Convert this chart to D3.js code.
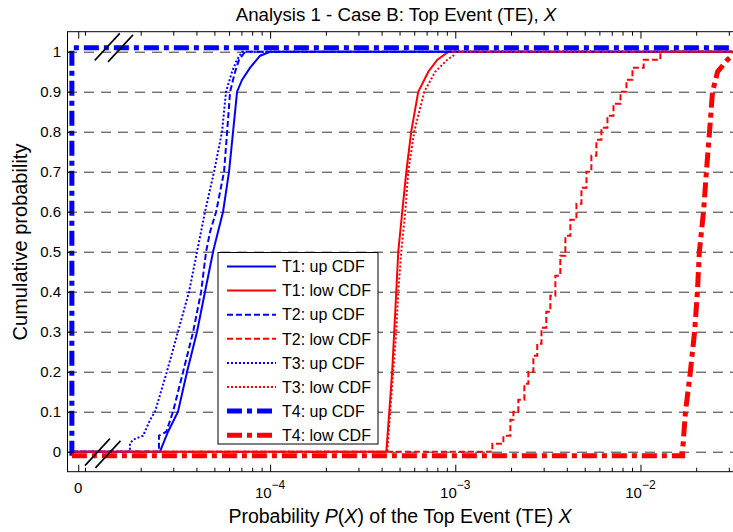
<!DOCTYPE html>
<html><head><meta charset="utf-8">
<script src="https://cdn.jsdelivr.net/npm/d3@7"></script>
<style>
body{margin:0;background:#fff;}
svg{display:block;font-family:"Liberation Sans",Arial,Helvetica,sans-serif;}
</style>
</head><body>
<svg id="chart" width="733" height="532"></svg>
<script>
// ---------- data ----------
const ZERO = 8.5e-6;   // stand-in position for x = 0 on the log axis
const X_END = 0.05;    // beyond the right edge (clipped)

const seriesNames = ["T1: up CDF","T1: low CDF","T2: up CDF","T2: low CDF","T3: up CDF","T3: low CDF","T4: up CDF","T4: low CDF"];
const seriesColors = ["#0000ff","#ff0000","#0000ff","#ff0000","#0000ff","#ff0000","#0000ff","#ff0000"];
const seriesStyles = ["solid","solid","dashed","dashed","dotted","dotted","dashdot","dashdot"];

const t1UpX = [ZERO, 2.54e-5, 2.81e-5, 3.18e-5, 3.56e-5, 4.03e-5, 4.45e-5, 4.68e-5, 4.92e-5, 5.04e-5, 5.57e-5, 6.0e-5, 6.31e-5, 6.63e-5, 7.06e-5, 7.8e-5, 8.83e-5, 1.0e-4, X_END];
const t1UpY = [0, 0, 0.05, 0.1, 0.2, 0.3, 0.4, 0.45, 0.5, 0.52, 0.6, 0.7, 0.8, 0.9, 0.93, 0.96, 0.99, 1, 1];

const t1LowX = [ZERO, 4.24e-4, 4.40e-4, 4.56e-4, 4.68e-4, 4.80e-4, 4.92e-4, 5.17e-4, 5.44e-4, 5.78e-4, 6.31e-4, 7.15e-4, 8.0e-4, 9.2e-4, X_END];
const t1LowY = [0, 0, 0.1, 0.2, 0.3, 0.4, 0.5, 0.6, 0.7, 0.8, 0.9, 0.95, 0.98, 1, 1];

const t2UpX = [ZERO, 2.51e-5, 2.51e-5, 2.75e-5, 2.99e-5, 3.39e-5, 3.84e-5, 4.24e-5, 4.51e-5, 4.74e-5, 5.11e-5, 5.64e-5, 5.86e-5, 6.08e-5, 6.47e-5, 6.80e-5, 7.33e-5, X_END];
const t2UpY = [0, 0, 0.04, 0.05, 0.1, 0.2, 0.3, 0.4, 0.5, 0.55, 0.6, 0.7, 0.8, 0.9, 0.95, 0.98, 1, 1];

const t2LowX = [ZERO, 1.585e-3, 1.818e-3, 1.983e-3, 2.06e-3, 2.19e-3, 2.36e-3, 2.48e-3, 2.64e-3, 2.77e-3, 2.92e-3, 3.10e-3, 3.26e-3, 3.47e-3, 3.69e-3, 3.93e-3, 4.18e-3, 4.51e-3, 4.80e-3, 5.11e-3, 5.43e-3, 5.78e-3, 6.15e-3, 6.63e-3, 7.15e-3, 7.80e-3, 8.40e-3, 9.05e-3, 1.04e-2, 1.28e-2, X_END];
const t2LowY = [0, 0.02, 0.04, 0.08, 0.10, 0.13, 0.17, 0.20, 0.24, 0.27, 0.31, 0.35, 0.39, 0.44, 0.49, 0.54, 0.58, 0.62, 0.66, 0.70, 0.74, 0.78, 0.81, 0.84, 0.87, 0.90, 0.93, 0.96, 0.98, 1.0, 1.0];

const t3UpX = [ZERO, 1.75e-5, 1.75e-5, 1.82e-5, 2.06e-5, 2.25e-5, 2.39e-5, 2.77e-5, 3.18e-5, 3.65e-5, 4.03e-5, 4.45e-5, 4.98e-5, 5.50e-5, 5.78e-5, 6.23e-5, 6.63e-5, 7.06e-5, X_END];
const t3UpY = [0, 0, 0.02, 0.03, 0.04, 0.08, 0.1, 0.2, 0.3, 0.4, 0.5, 0.6, 0.7, 0.8, 0.9, 0.95, 0.98, 1, 1];

const t3LowX = [ZERO, 4.29e-4, 4.45e-4, 4.62e-4, 4.80e-4, 4.92e-4, 5.11e-4, 5.37e-4, 5.57e-4, 6.00e-4, 6.80e-4, 7.80e-4, 9.05e-4, 9.75e-4, 1.0e-3, X_END];
const t3LowY = [0, 0, 0.1, 0.2, 0.3, 0.4, 0.5, 0.6, 0.7, 0.8, 0.9, 0.95, 0.98, 0.99, 1, 1];

const t4UpX = [ZERO, ZERO, X_END];
const t4UpY = [-0.01, 1.01, 1.01];

const t4LowX = [ZERO, 1.687e-2, 1.687e-2, 1.75e-2, 1.86e-2, 1.96e-2, 2.03e-2, 2.08e-2, 2.19e-2, 2.27e-2, 2.36e-2, 2.45e-2, 2.61e-2, 2.95e-2, 3.3e-2];
const t4LowY = [-0.01, -0.01, 0.0, 0.1, 0.2, 0.3, 0.4, 0.5, 0.6, 0.7, 0.8, 0.9, 0.95, 0.98, 1.0];

const seriesX = [t1UpX, t1LowX, t2UpX, t2LowX, t3UpX, t3LowX, t4UpX, t4LowX];
const seriesY = [t1UpY, t1LowY, t2UpY, t2LowY, t3UpY, t3LowY, t4UpY, t4LowY];
const seriesStep = [false, false, false, true, false, false, false, false];

const xTickValues = [9.2e-6, 1e-4, 1e-3, 1e-2];
const xTickLabels = ["0", "10^-4", "10^-3", "10^-2"];
const yTickValues = [0, 0.1, 0.2, 0.3, 0.4, 0.5, 0.6, 0.7, 0.8, 0.9, 1];
const yTickLabels = ["0", "0.1", "0.2", "0.3", "0.4", "0.5", "0.6", "0.7", "0.8", "0.9", "1"];

// ---------- layout ----------
const svg = d3.select("#chart");
const L = 67, R = 733, T = 31.7, B = 471.7;
const x = d3.scaleLog().domain([8.0e-6, 3.16e-2]).range([L, R]);
const y = d3.scaleLinear().domain([-0.05, 1.05]).range([B, T]);

const styleMap = {
  solid:   {w: 2, dash: null},
  dashed:  {w: 2, dash: "6,3"},
  dotted:  {w: 2, dash: "2,2"},
  dashdot: {w: 5, dash: "15,5,5,5"}
};

svg.append("defs").append("clipPath").attr("id", "clip")
  .append("rect").attr("x", L).attr("y", T).attr("width", R - L + 5).attr("height", B - T);

svg.append("rect").attr("x", L).attr("y", T).attr("width", R - L + 5).attr("height", B - T).attr("fill", "#fff");

// grid
const grid = svg.append("g").attr("transform", `translate(${L},0)`)
  .call(d3.axisLeft(y).tickValues(yTickValues).tickSize(-(R - L)).tickFormat(""));
grid.select(".domain").remove();
grid.selectAll(".tick line").attr("stroke", "#333").attr("stroke-width", 1).attr("stroke-dasharray", "10,7");

// curves
const plot = svg.append("g").attr("clip-path", "url(#clip)");
seriesX.forEach((xs, i) => {
  const pts = xs.map((v, j) => [v, seriesY[i][j]]);
  const line = d3.line().x(d => x(d[0])).y(d => y(d[1]))
    .curve(seriesStep[i] ? d3.curveStepAfter : d3.curveLinear);
  const st = styleMap[seriesStyles[i]];
  plot.append("path").attr("d", line(pts))
    .attr("fill", "none").attr("stroke", seriesColors[i])
    .attr("stroke-width", st.w).attr("stroke-dasharray", st.dash)
    .attr("stroke-linejoin", "miter");
});

// axes box
svg.append("rect").attr("x", L + 0.5).attr("y", T).attr("width", R - L + 5).attr("height", B - T)
  .attr("fill", "none").attr("stroke", "#000").attr("stroke-width", 1);

// minor x ticks
const minorVals = [];
for (let e = -5; e <= -2; e++) for (let k = 1; k <= 9; k++) {
  const v = k * Math.pow(10, e);
  if (v > x.domain()[0] && v < x.domain()[1] && !(k === 1 && e > -5)) minorVals.push(v);
}
[["bottom", B], ["top", T]].forEach(([pos, yy]) => {
  const ax = pos === "bottom" ? d3.axisBottom(x) : d3.axisTop(x);
  const gMinor = svg.append("g").attr("transform", `translate(0,${yy})`)
    .call(ax.tickValues(minorVals).tickSize(-4).tickFormat(""));
  gMinor.select(".domain").remove();
  gMinor.selectAll("line").attr("stroke", "#000");
  const ax2 = pos === "bottom" ? d3.axisBottom(x) : d3.axisTop(x);
  const gMajor = svg.append("g").attr("transform", `translate(0,${yy})`)
    .call(ax2.tickValues(xTickValues).tickSize(-7).tickFormat(""));
  gMajor.select(".domain").remove();
  gMajor.selectAll("line").attr("stroke", "#000");
});

// x tick labels
const xl = svg.append("g");
xTickValues.forEach((v, i) => {
  const lab = xTickLabels[i];
  const t = xl.append("text").attr("x", x(v)).attr("text-anchor", "middle")
    .attr("font-size", 15).attr("fill", "#000");
  if (lab.includes("^")) {
    const [base, ex] = lab.split("^");
    t.attr("y", B + 26.5);
    t.append("tspan").text(base);
    t.append("tspan").attr("dy", -9).attr("font-size", 12).text(ex.replace("-", "\u2212"));
  } else {
    t.attr("y", B + 21).text(lab);
  }
});

// y axis
const gy = svg.append("g").attr("transform", `translate(${L},0)`)
  .call(d3.axisLeft(y).tickValues(yTickValues).tickSize(-6).tickPadding(6)
    .tickFormat((d, i) => yTickLabels[i]));
gy.select(".domain").remove();
gy.selectAll("line").attr("stroke", "#000");
gy.selectAll("text").attr("font-size", 15).attr("font-family", "Liberation Sans, Arial, sans-serif").attr("fill", "#000");

// axis break marks
const brk = svg.append("g").attr("stroke", "#000").attr("stroke-width", 1.6);
const topY = y(1.012), botY = y(-0.001);
[[x(1.32e-5), topY], [x(1.556e-5), topY + 1.5], [x(1.168e-5), botY], [x(1.331e-5), botY + 2.3]].forEach(([cx, cy]) => {
  brk.append("line").attr("x1", cx - 12.5).attr("y1", cy + 13.5).attr("x2", cx + 12.5).attr("y2", cy - 13.5);
});

// legend
const lg = svg.append("g").attr("transform", "translate(218,252.5)");
lg.append("rect").attr("width", 160).attr("height", 191.5).attr("fill", "#fff").attr("stroke", "#000").attr("stroke-width", 1);
seriesNames.forEach((name, i) => {
  const yy = 14 + i * 24.1;
  const st = styleMap[seriesStyles[i]];
  lg.append("line").attr("x1", 9).attr("x2", 58).attr("y1", yy).attr("y2", yy)
    .attr("stroke", seriesColors[i]).attr("stroke-width", st.w).attr("stroke-dasharray", st.dash);
  lg.append("text").attr("x", 64).attr("y", yy).attr("dy", "0.36em").attr("font-size", 16).text(name);
});

// title
const title = svg.append("text").attr("x", 396).attr("y", 21).attr("text-anchor", "middle").attr("font-size", 18.7);
title.append("tspan").text("Analysis 1 - Case B: Top Event (TE), ");
title.append("tspan").attr("font-style", "italic").text("X");

// x label
const xlab = svg.append("text").attr("x", 400).attr("y", 523).attr("text-anchor", "middle").attr("font-size", 19.5);
xlab.append("tspan").text("Probability ");
xlab.append("tspan").attr("font-style", "italic").text("P");
xlab.append("tspan").text("(");
xlab.append("tspan").attr("font-style", "italic").text("X");
xlab.append("tspan").text(") of the Top Event (TE) ");
xlab.append("tspan").attr("font-style", "italic").text("X");

// y label
svg.append("text").attr("transform", `translate(27,242) rotate(-90)`)
  .attr("text-anchor", "middle").attr("font-size", 20).text("Cumulative probability");
</script>
</body></html>
